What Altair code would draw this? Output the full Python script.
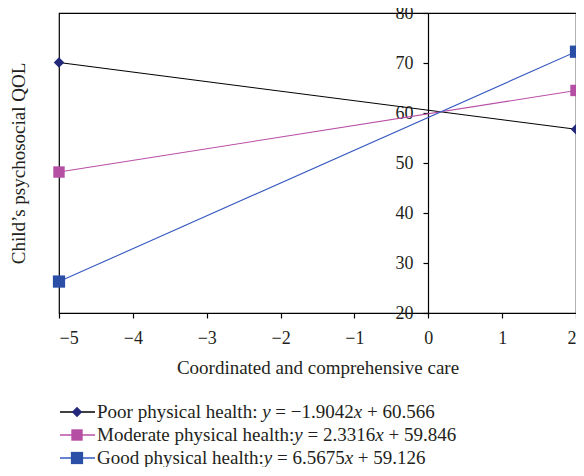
import altair as alt
import pandas as pd

# ---- data ----
series = ["Poor physical health", "Moderate physical health", "Good physical health"]
equations = ["y = −1.9042x + 60.566", "y = 2.3316x + 59.846", "y = 6.5675x + 59.126"]
x_points = [-5, 2]
poor_vals = [70.09, 56.76]
moderate_vals = [48.19, 64.51]
good_vals = [26.29, 72.26]

line_colors = ["#000000", "#b84fa6", "#3558c0"]
marker_colors = ["#23287a", "#b44fa4", "#2b4ea6"]
marker_shapes = ["diamond", "square", "square"]
marker_sizes = [110, 150, 150]
x_ticks = [-5, -4, -3, -2, -1, 0, 1, 2]
y_ticks = [20, 30, 40, 50, 60, 70, 80]

rows = []
for name, vals in zip(series, [poor_vals, moderate_vals, good_vals]):
    for xv, yv in zip(x_points, vals):
        rows.append({"series": name, "x": xv, "y": yv})
df = pd.DataFrame(rows)
leg = pd.DataFrame({"series": series})

FONT = "Liberation Serif"
TXT = "#231f20"
W, H = 517, 300
LEG_FS = 19

# Times / Liberation Serif advance widths (per 1000 em) for legend layout
ADV = {" ": 250, ":": 278, "=": 564, "−": 564, "+": 564, ".": 250,
       "a": 444, "c": 444, "d": 500, "e": 444, "h": 500, "i": 278, "l": 278,
       "o": 500, "p": 500, "r": 333, "s": 389, "t": 278, "y": 500, "x": 500,
       "P": 556, "M": 889, "G": 722}
for d in "0123456789":
    ADV[d] = 500
ITALIC_XY = 444


def text_width(s, italic=False):
    if italic:
        return ITALIC_XY * len(s) * LEG_FS / 1000
    return sum(ADV.get(ch, 500) for ch in s) * LEG_FS / 1000


x_scale = alt.Scale(domain=[-5, 2], nice=False, zero=False)
y_scale = alt.Scale(domain=[20, 80], nice=False, zero=False)

x_enc = alt.X(
    "x:Q", scale=x_scale,
    axis=alt.Axis(
        values=x_ticks, format="d", grid=False, tickSize=5, labelPadding=11,
        title="Coordinated and comprehensive care", titlePadding=11,
        domainColor="black", tickColor="black",
    ),
)
y_enc = alt.Y(
    "y:Q", scale=y_scale,
    axis=alt.Axis(
        values=y_ticks, grid=False, tickSize=5, labelPadding=10, offset=-369,
        title="Child’s psychosocial QOL", titleX=-410, titleY=150, titleAngle=-90,
        titleAlign="center", titleBaseline="middle",
        domainColor="black", tickColor="black",
    ),
)

color_line = alt.Color("series:N", scale=alt.Scale(domain=series, range=line_colors), legend=None)
fill_mark = alt.Fill("series:N", scale=alt.Scale(domain=series, range=marker_colors), legend=None)
shape_mark = alt.Shape("series:N", scale=alt.Scale(domain=series, range=marker_shapes), legend=None)
size_mark = alt.Size("series:N", scale=alt.Scale(domain=series, range=marker_sizes), legend=None)

lines = alt.Chart(df).mark_line(strokeWidth=1.1).encode(
    x=x_enc, y=y_enc, color=color_line, detail="series:N",
)
points = alt.Chart(df).mark_point(filled=True, opacity=1, strokeWidth=0).encode(
    x=alt.X("x:Q", scale=x_scale), y=alt.Y("y:Q", scale=y_scale),
    fill=fill_mark, shape=shape_mark, size=size_mark,
)
plot = alt.layer(lines, points)

leg_y = alt.Y("series:N", scale=alt.Scale(type="point", domain=series, range=[399, 445], padding=0), axis=None)

leg_rule = alt.Chart(leg).mark_rule(strokeWidth=1.3).encode(
    x=alt.value(1), x2=alt.value(36), y=leg_y, color=color_line,
)
leg_pts = alt.Chart(leg).mark_point(filled=True, opacity=1, strokeWidth=0).encode(
    x=alt.value(18), y=leg_y, fill=fill_mark, shape=shape_mark, size=size_mark,
)

# legend texts: series name in roman, equation with italic y and x
text_layers = []
SPACE_W = ADV[" "] * LEG_FS / 1000
for i, (s, eq) in enumerate(zip(series, equations)):
    ix = eq.index("x")
    pieces = [
        (s + (": " if i == 0 else ":"), False),
        ("y", True),
        (eq[1:ix], False),
        ("x", True),
        (eq[ix + 1:], False),
    ]
    pos = 38.0
    for txt, italic in pieces:
        core = txt.strip()
        lead = len(txt) - len(txt.lstrip())
        trail = len(txt) - len(txt.rstrip())
        pos += lead * SPACE_W
        seg = alt.Chart(pd.DataFrame({"series": [s], "t": [core]})).mark_text(
            align="left", baseline="middle", font=FONT, fontSize=LEG_FS, color=TXT,
            fontStyle="italic" if italic else "normal",
        ).encode(x=alt.value(round(pos, 2)), y=leg_y, text="t:N")
        text_layers.append(seg)
        pos += text_width(core, italic) + trail * SPACE_W

legend = alt.layer(leg_rule, leg_pts, *text_layers)

chart = alt.layer(plot, legend).resolve_scale(
    y="independent"
).properties(
    width=W, height=H,
    padding={"left": 51, "top": 5, "right": 0, "bottom": 154},
    autosize=alt.AutoSizeParams(type="none"),
).configure_view(
    stroke="black", strokeWidth=1.2,
).configure_axis(
    labelFont=FONT, titleFont=FONT, labelFontSize=18, titleFontSize=19,
    labelColor=TXT, titleColor=TXT, titleFontWeight="normal",
    domainWidth=1.2, tickWidth=1.2,
)

chart.save("out.html", embed_options={"renderer": "svg", "actions": False})
